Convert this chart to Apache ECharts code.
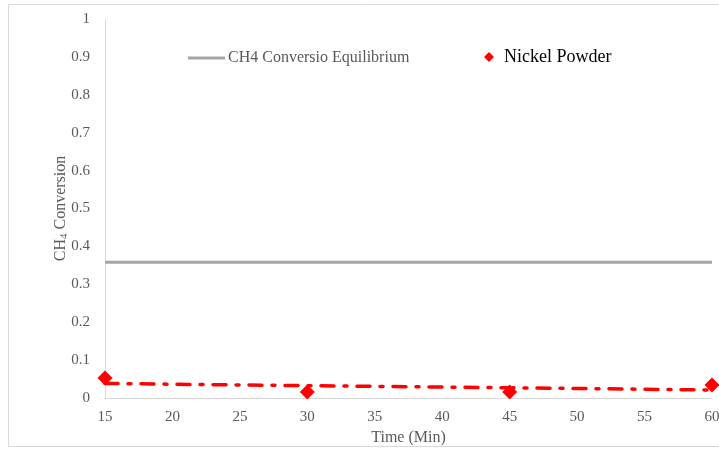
<!DOCTYPE html>
<html>
<head>
<meta charset="utf-8">
<script src="https://cdn.jsdelivr.net/npm/echarts@6/dist/echarts.min.js"></script>
<style>
  html, body { margin: 0; padding: 0; background: #fff; }
  #chart { width: 719px; height: 450px; }
</style>
</head>
<body>
<div id="chart"></div>
<script>
// Reaction time (min) and measured CH4 conversion over nickel powder
const times = [15, 30, 45, 60];
const nickelPowder = [0.053, 0.016, 0.016, 0.034];
// Equilibrium CH4 conversion (constant over the run)
const equilibrium = 0.358;
const xTicks = { min: 15, max: 60, step: 5 };
const yTicks = { min: 0, max: 1, step: 0.1 };

// Least-squares linear trend through the nickel powder points
function linearTrend(xs, ys) {
  const n = xs.length;
  const mx = xs.reduce((a, b) => a + b, 0) / n;
  const my = ys.reduce((a, b) => a + b, 0) / n;
  let sxy = 0, sxx = 0;
  for (let i = 0; i < n; i++) {
    sxy += (xs[i] - mx) * (ys[i] - my);
    sxx += (xs[i] - mx) * (xs[i] - mx);
  }
  const slope = sxy / sxx;
  const icpt = my - slope * mx;
  return [xs[0], xs[n - 1]].map(x => [x, icpt + slope * x]);
}

const serif = '"Liberation Serif", "Times New Roman", serif';
const chart = echarts.init(document.getElementById('chart'));

chart.setOption({
  animation: false,
  backgroundColor: '#fff',
  grid: { left: 105, right: 7, top: 19, bottom: 52, containLabel: false, outerBoundsMode: 'none' },
  graphic: [{
    type: 'rect',
    shape: { x: 8.5, y: 4.5, width: 720, height: 442 },
    style: { fill: 'none', stroke: '#d9d9d9', lineWidth: 1 },
    silent: true
  }],
  legend: [{
    left: 183, top: 45,
    itemWidth: 37, itemHeight: 3, itemGap: 3,
    data: [{ name: 'CH4 Conversio Equilibrium', icon: 'rect' }],
    textStyle: { fontFamily: serif, fontSize: 16, color: '#595959', padding: [0, 0, 0, -2] }
  }, {
    left: 479, top: 43,
    itemWidth: 10, itemHeight: 10, itemGap: 4,
    data: [{ name: 'Nickel Powder', icon: 'diamond' }],
    textStyle: { fontFamily: serif, fontSize: 18, color: '#000', padding: [0, 0, 0, 5] }
  }],
  xAxis: {
    type: 'value',
    min: xTicks.min, max: xTicks.max, interval: xTicks.step,
    name: 'Time (Min)', nameLocation: 'middle', nameGap: 30,
    nameTextStyle: { fontFamily: serif, fontSize: 16, color: '#595959' },
    axisLine: { show: true, lineStyle: { color: '#d9d9d9', width: 1 } },
    axisTick: { show: false },
    splitLine: { show: false },
    axisLabel: { fontFamily: serif, fontSize: 15, color: '#595959', margin: 12 }
  },
  yAxis: {
    type: 'value',
    min: yTicks.min, max: yTicks.max, interval: yTicks.step,
    name: '{a|CH}{s|4}{a| Conversion}', nameLocation: 'middle', nameGap: 35,
    nameMoveOverlap: false,
    nameTextStyle: {
      rich: {
        a: { fontFamily: serif, fontSize: 16, color: '#595959' },
        s: { fontFamily: serif, fontSize: 11, color: '#595959', verticalAlign: 'bottom', padding: [7, 0, 0, 0] }
      }
    },
    axisLine: { show: true, lineStyle: { color: '#d9d9d9', width: 1 } },
    axisTick: { show: false },
    splitLine: { show: false },
    axisLabel: { fontFamily: serif, fontSize: 15, color: '#595959', margin: 15 }
  },
  series: [{
    name: 'CH4 Conversio Equilibrium',
    type: 'line',
    data: [[xTicks.min, equilibrium], [xTicks.max, equilibrium]],
    showSymbol: false,
    itemStyle: { color: '#a5a5a5' },
    lineStyle: { color: '#a5a5a5', width: 3 },
    z: 2
  }, {
    name: 'Nickel Powder trend',
    type: 'line',
    data: linearTrend(times, nickelPowder),
    showSymbol: false,
    lineStyle: { color: '#ff0000', width: 3.5, type: [13, 10, 3, 10], cap: 'round' },
    z: 3
  }, {
    name: 'Nickel Powder',
    type: 'scatter',
    data: times.map((t, i) => [t, nickelPowder[i]]),
    symbol: 'diamond',
    symbolSize: 15,
    itemStyle: { color: '#ff0000', opacity: 1 },
    z: 4
  }]
});
</script>
</body>
</html>
